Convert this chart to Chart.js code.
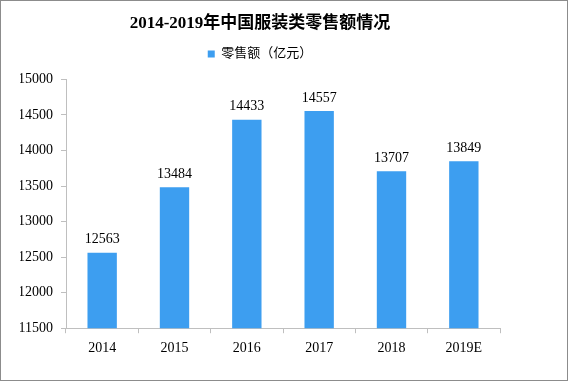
<!DOCTYPE html>
<html>
<head>
<meta charset="utf-8">
<script src="https://cdn.jsdelivr.net/npm/chart.js@4/dist/chart.umd.min.js"></script>
<style>
html,body{margin:0;padding:0;background:#fff;}
#wrap{width:566px;height:379px;border:1px solid #8c8c8c;position:relative;}
canvas{display:block;}
</style>
</head>
<body>
<div id="wrap"><canvas id="c" width="566" height="379"></canvas></div>
<script>
const categories = ['2014','2015','2016','2017','2018','2019E'];
const retailSales = [12563,13484,14433,14557,13707,13849];
const seriesName = '零售额（亿元）';
const titleText = '2014-2019年中国服装类零售额情况';

const FONT = '"SimSun","Liberation Serif","Noto Sans CJK SC",serif';
const axisColor = '#bfbfbf';

const valueLabels = {
  id: 'valueLabels',
  afterDatasetsDraw(chart) {
    const ctx = chart.ctx;
    const meta = chart.getDatasetMeta(0);
    ctx.save();
    ctx.font = '14px ' + FONT;
    ctx.fillStyle = '#000';
    ctx.textAlign = 'center';
    ctx.textBaseline = 'bottom';
    meta.data.forEach((bar, i) => {
      ctx.fillText(String(chart.data.datasets[0].data[i]), bar.x, bar.y - 6);
    });
    ctx.restore();
  }
};

const legendMargin = {
  id: 'legendMargin',
  beforeInit(chart) {
    const orig = chart.legend.fit;
    chart.legend.fit = function () {
      orig.bind(chart.legend)();
      this.height += 9;
    };
  }
};

new Chart(document.getElementById('c'), {
  type: 'bar',
  data: {
    labels: categories,
    datasets: [{
      label: seriesName,
      data: retailSales,
      backgroundColor: '#3d9ef0',
      borderWidth: 0,
      categoryPercentage: 1,
      barPercentage: 0.406
    }]
  },
  options: {
    responsive: false,
    animation: false,
    layout: { padding: { left: 19, right: 67, top: 0, bottom: 16 } },
    plugins: {
      title: {
        display: true,
        text: titleText,
        color: '#000',
        font: { family: FONT, size: 17, weight: 'bold' },
        padding: { top: 12, bottom: 6 }
      },
      legend: {
        display: true,
        labels: {
          color: '#000',
          font: { family: FONT, size: 13 },
          boxWidth: 7,
          boxHeight: 7,
          padding: 8
        }
      },
      tooltip: { enabled: false }
    },
    scales: {
      x: {
        grid: { display: true, drawOnChartArea: false, drawTicks: true, tickLength: 5, color: axisColor, offset: true },
        border: { display: true, color: axisColor, width: 1 },
        ticks: { color: '#000', font: { family: FONT, size: 14 }, padding: 7, maxRotation: 0 }
      },
      y: {
        min: 11500,
        max: 15000,
        afterFit(scale) { scale.width = 46; },
        grid: { display: true, drawOnChartArea: false, drawTicks: true, tickLength: 5, color: axisColor },
        border: { display: true, color: axisColor, width: 1 },
        ticks: { stepSize: 500, color: '#000', font: { family: FONT, size: 14 }, padding: 8,
                 callback: (v) => String(v) }
      }
    }
  },
  plugins: [valueLabels, legendMargin]
});
</script>
</body>
</html>
